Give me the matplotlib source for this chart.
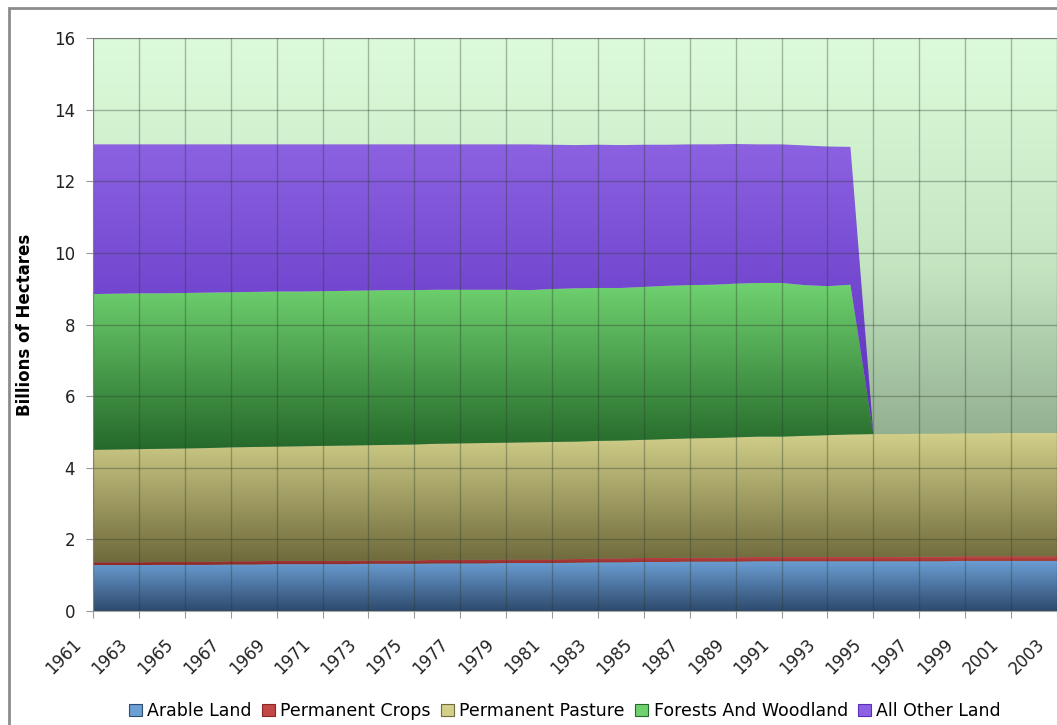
"""World land use by category, 1961-2003 (stacked area)."""

import matplotlib.pyplot as plt
import numpy as np
from matplotlib.colors import LinearSegmentedColormap
from matplotlib.patches import Patch, Rectangle
from matplotlib.transforms import ScaledTranslation

years = list(range(1961, 2004))

# Billions of hectares
arable = [1.28, 1.28, 1.28, 1.29, 1.29, 1.29, 1.30, 1.30, 1.31, 1.31,
          1.31, 1.31, 1.32, 1.32, 1.32, 1.33, 1.33, 1.33, 1.34, 1.34,
          1.34, 1.35, 1.36, 1.36, 1.37, 1.37, 1.38, 1.38, 1.38, 1.39,
          1.39, 1.39, 1.39, 1.39, 1.39, 1.39, 1.39, 1.39, 1.40, 1.40,
          1.40, 1.40, 1.40]
crops = [0.08, 0.08, 0.08, 0.08, 0.08, 0.08, 0.09, 0.09, 0.09, 0.09,
         0.09, 0.09, 0.09, 0.09, 0.09, 0.10, 0.10, 0.10, 0.10, 0.10,
         0.10, 0.10, 0.11, 0.11, 0.11, 0.11, 0.11, 0.11, 0.12, 0.12,
         0.12, 0.12, 0.12, 0.12, 0.12, 0.12, 0.13, 0.13, 0.13, 0.13,
         0.13, 0.13, 0.13]
pasture = [3.14, 3.15, 3.16, 3.16, 3.17, 3.18, 3.18, 3.19, 3.19, 3.20,
           3.21, 3.22, 3.22, 3.23, 3.24, 3.24, 3.25, 3.26, 3.26, 3.27,
           3.28, 3.28, 3.28, 3.29, 3.30, 3.32, 3.33, 3.34, 3.35, 3.36,
           3.36, 3.38, 3.40, 3.42, 3.43, 3.43, 3.43, 3.43, 3.43, 3.43,
           3.44, 3.44, 3.44]
forests = [4.35, 4.35, 4.35, 4.34, 4.34, 4.34, 4.33, 4.33, 4.33, 4.32,
           4.32, 4.32, 4.32, 4.32, 4.31, 4.30, 4.29, 4.28, 4.27, 4.25,
           4.27, 4.28, 4.27, 4.26, 4.27, 4.28, 4.28, 4.28, 4.29, 4.29,
           4.29, 4.21, 4.16, 4.18, 0.0, 0.0, 0.0, 0.0, 0.0, 0.0,
           0.0, 0.0, 0.0]
other = [4.18, 4.17, 4.16, 4.16, 4.15, 4.14, 4.13, 4.12, 4.11, 4.11,
         4.10, 4.09, 4.08, 4.07, 4.07, 4.06, 4.06, 4.06, 4.06, 4.07,
         4.03, 4.00, 4.00, 3.99, 3.97, 3.94, 3.93, 3.92, 3.90, 3.87,
         3.87, 3.90, 3.90, 3.85, 0.0, 0.0, 0.0, 0.0, 0.0, 0.0,
         0.0, 0.0, 0.0]

labels = ['Arable Land', 'Permanent Crops', 'Permanent Pasture',
          'Forests And Woodland', 'All Other Land']
# (top colour, bottom colour) of each area's vertical gradient
grads = [('#6c9fd4', '#2e4a6e'),
         ('#c24848', '#8a2626'),
         ('#d2d08a', '#6f6a3c'),
         ('#6fd26f', '#25692a'),
         ('#8c62e2', '#5a2cbc')]


def main():
    fig = plt.figure(figsize=(10.57, 7.25), dpi=100)
    ax = fig.add_axes([93 / 1057, 114 / 725, 964 / 1057, 573 / 725])

    x = np.array(years)
    series = [np.array(s) for s in (arable, crops, pasture, forests, other)]

    # Background gradient of the plot area
    bg = LinearSegmentedColormap.from_list(
        'bg', [(0.0, '#6e8a6c'), (0.28, '#8fab8c'), (0.6, '#c3e6c1'),
               (1.0, '#dcfbda')])
    ax.imshow(np.linspace(0, 1, 256).reshape(-1, 1), cmap=bg,
              extent=[0, 1, 0, 1], transform=ax.transAxes, origin='lower',
              aspect='auto', zorder=0)

    base = np.zeros(len(x))
    for vals, (c_top, c_bot), lab in zip(series, grads, labels):
        top = base + vals
        poly = ax.fill_between(x, base, top, facecolor='none',
                               edgecolor='none', zorder=1)
        cmap = LinearSegmentedColormap.from_list(lab, [c_bot, c_top])
        lo, hi = base.min(), top.max()
        im = ax.imshow(np.linspace(0, 1, 256).reshape(-1, 1), cmap=cmap,
                       extent=[x[0], x[-1], lo, hi], origin='lower',
                       aspect='auto', zorder=1)
        im.set_clip_path(poly.get_paths()[0], transform=ax.transData)
        base = top

    ax.set_xlim(1961, 2003)
    ax.set_ylim(0, 16)
    ax.set_xticks(years[::2])
    ax.set_xticklabels([])
    # Slanted year labels, set a little left of and below their ticks
    shift = ScaledTranslation(-21 / 100, -24 / 100, fig.dpi_scale_trans)
    for yr in years[::2]:
        ax.text(yr, 0, str(yr), rotation=45, ha='right', va='top',
                rotation_mode='anchor', fontsize=12, color='#222222',
                transform=ax.get_xaxis_transform() + shift)
    ax.set_yticks(range(0, 17, 2))
    ax.tick_params(axis='both', labelsize=12, color='#999999', length=5,
                   colors='#222222')
    ax.tick_params(axis='y', pad=8)
    ax.grid(True, color='#2a3a2a', alpha=0.35, lw=1)
    ax.set_axisbelow(False)
    ax.spines['right'].set_visible(False)
    for side in ('left', 'bottom', 'top'):
        ax.spines[side].set_color('#aaaaaa')

    ax.set_ylabel('Billions of Hectares', fontsize=12, fontweight='bold',
                  labelpad=14)

    handles = [Patch(facecolor=c_top, edgecolor=c_bot, lw=0.8)
               for c_top, c_bot in grads]
    fig.legend(handles, labels, loc='center', ncol=5, frameon=False,
               bbox_to_anchor=(565 / 1057, 1 - 711 / 725), fontsize=12.5,
               handlelength=0.75, handleheight=0.75, handletextpad=0.3,
               columnspacing=0.6, borderpad=0)

    # Grey frame round the chart
    fig.patches.append(Rectangle((9 / 1057, -0.05), 1.1, 0.05 + 717 / 725,
                                 transform=fig.transFigure, fill=False,
                                 edgecolor='#8c8c8c', lw=2.0))

    fig.savefig('out.png', dpi=100)


if __name__ == '__main__':
    main()
